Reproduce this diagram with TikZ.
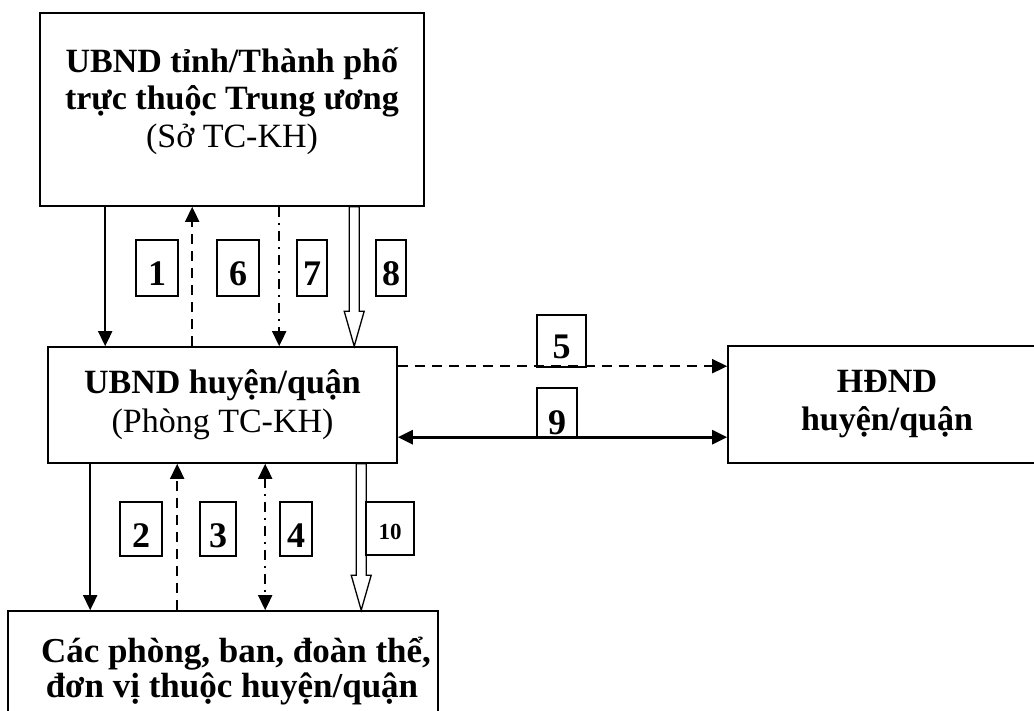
\documentclass[tikz,border=0pt]{standalone}
\usepackage{fontspec}
\setmainfont{Liberation Serif}
\usetikzlibrary{arrows.meta,calc}
% hollow block arrow pointing down, from #1 to #2
\newcommand{\hollowdown}[2]{%
  \draw[line width=1.3pt, line join=miter]
    ($(#1)+(-5,0)$) -- ($(#2)+(-5,-35)$) -- ($(#2)+(-10,-35)$) -- (#2)
    -- ($(#2)+(10,-35)$) -- ($(#2)+(5,-35)$) -- ($(#1)+(5,0)$) -- cycle;}

\begin{document}
\begin{tikzpicture}[x=1pt, y=-1pt,
  mainbox/.style={draw, line width=1.6pt, align=center, inner sep=0pt, font=\fontsize{34}{38}\selectfont},
  numbox/.style={draw, line width=1.2pt, inner sep=0pt, text height=36pt, text depth=0pt, font=\fontsize{36}{38}\selectfont\bfseries},
  arr/.style={line width=1.8pt, -{Triangle[length=15pt, width=14pt]}},
  dashedarr/.style={arr, dash pattern=on 10pt off 7pt},
  dashdotarr/.style={arr, dash pattern=on 10pt off 6pt on 2pt off 6pt}]
  \clip (0,0) rectangle (1034,711);

  % boxes
  \node[mainbox, minimum width=384pt, minimum height=193pt, font=\fontsize{34}{37.5}\selectfont] (prov) at (232,109.5)
    {\textbf{UBND tỉnh/Thành phố}\\\textbf{trực thuộc Trung ương}\\(Sở TC-KH)\rule[-24pt]{0pt}{24pt}};
  \node[mainbox, minimum width=349pt, minimum height=116pt, font=\fontsize{34}{39}\selectfont] (dist) at (222.5,405)
    {\textbf{UBND huyện/quận}\\(Phòng TC-KH)};
  \node[mainbox, minimum width=318pt, minimum height=117pt] (hdnd) at (887,404.5)
    {\textbf{HĐND}\\\textbf{huyện/quận}};
  \node[mainbox, minimum width=430pt, minimum height=120pt, font=\fontsize{35}{35}\selectfont] (units) at (223,671)
    {\hspace*{26pt}\textbf{Các phòng, ban, đoàn thể,}\\\hspace*{18pt}\textbf{đơn vị thuộc huyện/quận}};

  % province <-> district
  \draw[arr] ([xshift=66pt]prov.south west) coordinate (a1) -- (a1 |- dist.north);
  \draw[dashedarr] ([xshift=153pt]prov.south west) coordinate (a6) (a6 |- dist.north) -- (a6);
  \draw[dashdotarr] ([xshift=240pt]prov.south west) coordinate (a7) -- (a7 |- dist.north);
  \coordinate (a8) at ([xshift=315pt]prov.south west);
  \coordinate (b8) at (a8 |- dist.north);
  \hollowdown{a8}{b8}

  % district <-> units
  \draw[arr] ([xshift=43pt]dist.south west) coordinate (a2) -- (a2 |- units.north);
  \draw[dashedarr] ([xshift=130pt]dist.south west) coordinate (a3) (a3 |- units.north) -- (a3);
  \draw[dashdotarr, {Triangle[length=15pt, width=14pt]}-{Triangle[length=15pt, width=14pt]}] ([xshift=218pt]dist.south west) coordinate (a4) -- (a4 |- units.north);
  \coordinate (a10) at ([xshift=314pt]dist.south west);
  \coordinate (b10) at (a10 |- units.north);
  \hollowdown{a10}{b10}

  % district <-> council
  \draw[dashedarr] ([yshift=-20pt]dist.north east) coordinate (a5) -- (a5 -| hdnd.west);
  \draw[arr, line width=2.8pt, {Triangle[length=15pt, width=14pt]}-{Triangle[length=15pt, width=14pt]}] ([yshift=-91pt]dist.north east) coordinate (a9) -- (a9 -| hdnd.west);

  % step numbers
  \node[numbox, minimum width=42pt, minimum height=56pt] (n1) at (157,268) {1};
  \node[numbox, minimum width=42pt, minimum height=56pt] (n6) at (238,268) {6};
  \node[numbox, minimum width=30pt, minimum height=56pt] (n7) at (312,268) {7};
  \node[numbox, minimum width=30pt, minimum height=56pt] (n8) at (391,268) {8};
  \node[numbox, minimum width=42pt, minimum height=54pt] (n2) at (141,529) {2};
  \node[numbox, minimum width=36pt, minimum height=54pt] (n3) at (218,529) {3};
  \node[numbox, minimum width=32pt, minimum height=54pt] (n4) at (296,529) {4};
  \node[numbox, minimum width=48pt, minimum height=53pt, text height=22pt, font=\fontsize{23}{25}\selectfont\bfseries] (n10) at (390,528.5) {10};
  \node[numbox, minimum width=49pt, minimum height=52pt] (n5) at (561.5,341) {5};
  \node[numbox, minimum width=40pt, minimum height=50pt, text height=42pt] (n9) at (557,413) {9};
\end{tikzpicture}
\end{document}
